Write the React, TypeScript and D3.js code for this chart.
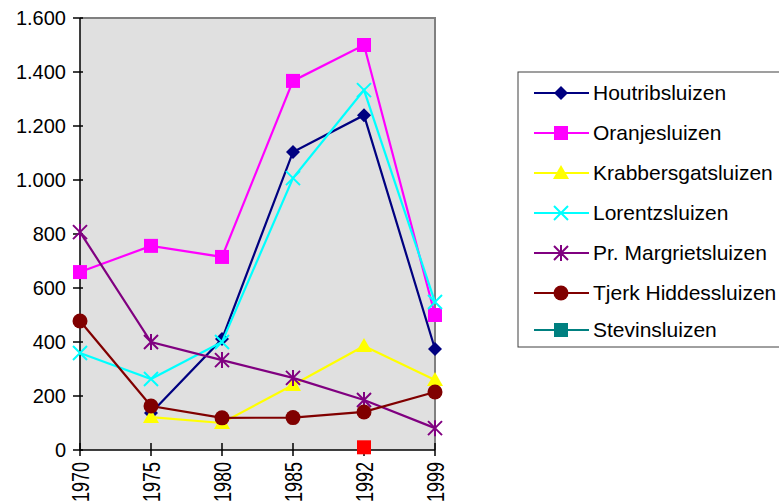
import React from "react";
import * as d3 from "d3";

const years = ["1970", "1975", "1980", "1985", "1992", "1999"];
const yTicks = [0, 200, 400, 600, 800, 1000, 1200, 1400, 1600];

const houtrib = [null, 137, 411, 1104, 1240, 374];
const oranje = [659, 756, 715, 1367, 1500, 500];
const krabbers = [null, 122, 100, 241, 385, 259];
const lorentz = [359, 263, 400, 1007, 1333, 548];
const margriet = [807, 400, 333, 267, 185, 81];
const tjerk = [478, 163, 119, 120, 141, 215];
const stevin = [null, null, null, null, 10, null];

type S = { name: string; values: (number | null)[]; color: string; marker: string; markerColor?: string };
const series: S[] = [
  { name: "Houtribsluizen", values: houtrib, color: "#000080", marker: "diamond" },
  { name: "Oranjesluizen", values: oranje, color: "#FF00FF", marker: "square" },
  { name: "Krabbersgatsluizen", values: krabbers, color: "#FFFF00", marker: "triangle" },
  { name: "Lorentzsluizen", values: lorentz, color: "#00FFFF", marker: "x" },
  { name: "Pr. Margrietsluizen", values: margriet, color: "#800080", marker: "star" },
  { name: "Tjerk Hiddessluizen", values: tjerk, color: "#800000", marker: "circle" },
  { name: "Stevinsluizen", values: stevin, color: "#008080", marker: "square", markerColor: "#FF0000" },
];

const W = 779, H = 501;
const left = 80, right = 435, top = 18, bottom = 450;

function Marker({ type, x, y, color }: { type: string; x: number; y: number; color: string }) {
  switch (type) {
    case "diamond":
      return <path d={`M${x},${y - 7}L${x + 7},${y}L${x},${y + 7}L${x - 7},${y}Z`} fill={color} />;
    case "square":
      return <rect x={x - 7} y={y - 7} width={14} height={14} fill={color} />;
    case "triangle":
      return <path d={`M${x},${y - 8}L${x + 8},${y + 6}L${x - 8},${y + 6}Z`} fill={color} />;
    case "x":
      return <path d={`M${x - 7},${y - 7}L${x + 7},${y + 7}M${x + 7},${y - 7}L${x - 7},${y + 7}`} stroke={color} strokeWidth={2} />;
    case "star":
      return (
        <path
          d={`M${x - 7},${y - 7}L${x + 7},${y + 7}M${x + 7},${y - 7}L${x - 7},${y + 7}M${x},${y - 8}L${x},${y + 8}`}
          stroke={color}
          strokeWidth={2}
        />
      );
    case "circle":
      return <circle cx={x} cy={y} r={7.5} fill={color} />;
  }
  return null;
}

export default function App() {
  const x = d3.scalePoint<string>().domain(years).range([left, right]);
  const y = d3.scaleLinear().domain([0, 1600]).range([bottom, top]);
  const line = d3
    .line<number | null>()
    .defined((d) => d != null)
    .x((_, i) => x(years[i])!)
    .y((d) => y(d as number));

  const font = "Arial, 'Liberation Sans', sans-serif";
  const legX = 518, legY = 72, legH = 275, rowH = 40;

  return (
    <svg width={W} height={H} style={{ position: "absolute", left: 0, top: 0 }} fontFamily={font}>
      <rect x={0} y={0} width={W} height={H} fill="#fff" />
      <rect x={left} y={top} width={right - left} height={bottom - top} fill="#E0E0E0" />
      <path d={`M${left},${top}H${right}V${bottom}`} fill="none" stroke="#808080" strokeWidth={2} />
      <path d={`M${left},${top}V${bottom}H${right}`} fill="none" stroke="#000" strokeWidth={1.5} />
      {yTicks.map((t) => (
        <g key={t}>
          <line x1={left - 7} x2={left + 3} y1={y(t)} y2={y(t)} stroke="#000" strokeWidth={1.5} />
          <text x={left - 14} y={y(t)} dy="0.35em" textAnchor="end" fontSize={20} fill="#000">
            {d3.format(",")(t).replace(/,/g, ".")}
          </text>
        </g>
      ))}
      {years.map((yr) => (
        <g key={yr}>
          <line x1={x(yr)} x2={x(yr)} y1={bottom - 7} y2={bottom + 6} stroke="#000" strokeWidth={1.5} />
          <text
            transform={`translate(${x(yr)! + 9},${bottom + 12}) rotate(-90) scale(0.75,1)`}
            textAnchor="end"
            fontSize={24}
            fill="#000"
          >
            {yr}
          </text>
        </g>
      ))}
      {series.map((s) => (
        <g key={s.name}>
          <path d={line(s.values) || ""} fill="none" stroke={s.color} strokeWidth={2.2} />
          {s.values.map((v, i) =>
            v == null ? null : (
              <Marker key={i} type={s.marker} x={x(years[i])!} y={y(v)} color={s.markerColor || s.color} />
            )
          )}
        </g>
      ))}
      <rect x={legX} y={legY} width={W - legX + 10} height={legH} fill="#fff" stroke="#404040" strokeWidth={1} />
      {series.map((s, i) => {
        const cy = legY + 21 + i * rowH - (i === 6 ? 3 : 0);
        return (
          <g key={s.name}>
            <line x1={534} x2={589} y1={cy} y2={cy} stroke={s.color} strokeWidth={2.2} />
            <Marker type={s.marker} x={561} y={cy} color={s.color} />
            <text x={593} y={cy} dy="0.35em" fontSize={21} fill="#000">
              {s.name}
            </text>
          </g>
        );
      })}
    </svg>
  );
}
